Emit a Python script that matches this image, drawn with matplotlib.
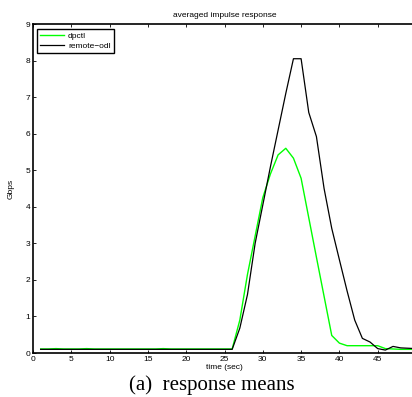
import matplotlib
matplotlib.use("Agg")
import matplotlib.pyplot as plt

time_sec = list(range(1, 51))
dpctl = [0.11, 0.11, 0.12, 0.11, 0.11, 0.11, 0.12, 0.11, 0.11, 0.11,
         0.11, 0.11, 0.11, 0.11, 0.11, 0.11, 0.12, 0.11, 0.11, 0.11,
         0.11, 0.11, 0.11, 0.11, 0.11, 0.11, 0.90, 2.15, 3.20, 4.25,
         4.90, 5.42, 5.60, 5.33, 4.78, 3.70, 2.62, 1.55, 0.48, 0.27,
         0.20, 0.20, 0.20, 0.20, 0.20, 0.12, 0.11, 0.10, 0.10, 0.10]
remote_odl = [0.10, 0.10, 0.10, 0.10, 0.10, 0.10, 0.10, 0.10, 0.10, 0.10,
              0.10, 0.10, 0.10, 0.10, 0.10, 0.10, 0.10, 0.10, 0.10, 0.10,
              0.10, 0.10, 0.10, 0.10, 0.10, 0.10, 0.68, 1.60, 3.00, 4.05,
              5.10, 6.10, 7.10, 8.05, 8.05, 6.58, 5.92, 4.50, 3.41, 2.55,
              1.70, 0.90, 0.40, 0.30, 0.12, 0.08, 0.18, 0.14, 0.13, 0.12]
x_ticks = list(range(0, 51, 5))
y_ticks = list(range(0, 10))

plt.rcParams['font.family'] = ['Liberation Sans', 'DejaVu Sans']

fig = plt.figure(figsize=(4.12, 3.97), dpi=100)
ax = fig.add_axes([33/412, 44/397, 383/412, 329/397])

ax.plot(time_sec, dpctl, color='#00ff00', lw=1.0, label='dpctl')
ax.plot(time_sec, remote_odl, color='black', lw=0.9, label='remote\u2212odl')

ax.set_xlim(0, 50)
ax.set_ylim(0, 9)
ax.set_xticks(x_ticks)
ax.set_yticks(y_ticks)
ax.tick_params(direction='in', length=2.5, width=0.6, labelsize=6,
               top=True, right=True, pad=2)
for s in ax.spines.values():
    s.set_linewidth(1.2)

ax.set_title('averaged impulse response', fontsize=6, pad=5)
ax.set_xlabel('time (sec)', fontsize=6, labelpad=1)
ax.set_ylabel('Gbps', fontsize=6, labelpad=8)

leg = ax.legend(loc='upper left', bbox_to_anchor=(0.0097, 0.985),
                fontsize=6, frameon=True, fancybox=False, framealpha=1,
                edgecolor='black', borderpad=0.35, labelspacing=0.3,
                handlelength=2.9, handletextpad=0.5, borderaxespad=0)
leg.get_frame().set_linewidth(1.0)

fig.text(211.7/412, 1 - 385/397, '(a)\u2002response means', ha='center', va='center',
         fontsize=15, family='Liberation Serif')

fig.savefig('out.png', dpi=100)
